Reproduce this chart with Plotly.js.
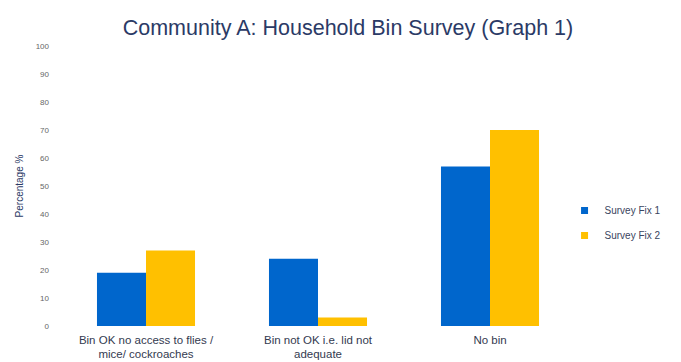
<!DOCTYPE html>
<html>
<head>
<meta charset="utf-8">
<script src="https://cdn.plot.ly/plotly-3.0.1.min.js"></script>
<style>html,body{margin:0;padding:0;background:#fff;}#chart{width:681px;height:362px;}</style>
</head>
<body>
<div id="chart"></div>
<script>
const categories = ["Bin OK no access to flies /<br>mice/ cockroaches", "Bin not OK i.e. lid not<br>adequate", "No bin"];
const surveyFix1 = [19, 24, 57];
const surveyFix2 = [27, 3, 70];
const seriesNames = ["Survey Fix 1", "Survey Fix 2"];
const seriesColors = ["#0066CC", "#FFC000"];
const yTicks = [0, 10, 20, 30, 40, 50, 60, 70, 80, 90, 100];

const data = [
  {type: "bar", name: seriesNames[0], x: categories, y: surveyFix1, marker: {color: seriesColors[0]}, showlegend: false},
  {type: "bar", name: seriesNames[1], x: categories, y: surveyFix2, marker: {color: seriesColors[1]}, showlegend: false},
  {type: "scatter", mode: "markers", name: seriesNames[0], x: [null], y: [null], legendgroup: "a",
   marker: {symbol: "square", size: 7, color: seriesColors[0]}},
  {type: "scatter", mode: "markers", name: seriesNames[1], x: [null], y: [null], legendgroup: "b",
   marker: {symbol: "square", size: 7, color: seriesColors[1]}}
];

const layout = {
  width: 681, height: 362,
  margin: {l: 60, r: 105, t: 46, b: 36, autoexpand: false},
  paper_bgcolor: "#fff", plot_bgcolor: "#fff",
  font: {family: "Liberation Sans, Arial, sans-serif", color: "#3a4560"},
  title: {text: "Community A: Household Bin Survey (Graph 1)", x: 0.511, xanchor: "center", y: 0.925, yanchor: "middle",
          font: {size: 21.5, color: "#2b3a66"}},
  barmode: "group", bargap: 0.43, bargroupgap: 0,
  xaxis: {type: "category", automargin: false, tickfont: {size: 11.5, color: "#333a50"}, showgrid: false, showline: false, zeroline: false,
          ticks: "", ticklabelstandoff: 5},
  yaxis: {range: [0, 100], automargin: false, tickvals: yTicks, showgrid: false, zeroline: false, showline: false,
          tickfont: {size: 8, color: "#666"}, ticklabelstandoff: 10,
          title: {text: "Percentage %", font: {size: 10, color: "#2b3a66"}, standoff: 10}},
  legend: {xref: "container", yref: "container", x: 0.829, xanchor: "left", y: 0.384, yanchor: "middle",
           font: {size: 10, color: "#3a4560"}, traceorder: "grouped", tracegroupgap: 6, itemwidth: 30}
};

Plotly.newPlot("chart", data, layout, {displayModeBar: false, staticPlot: true});
</script>
</body>
</html>
